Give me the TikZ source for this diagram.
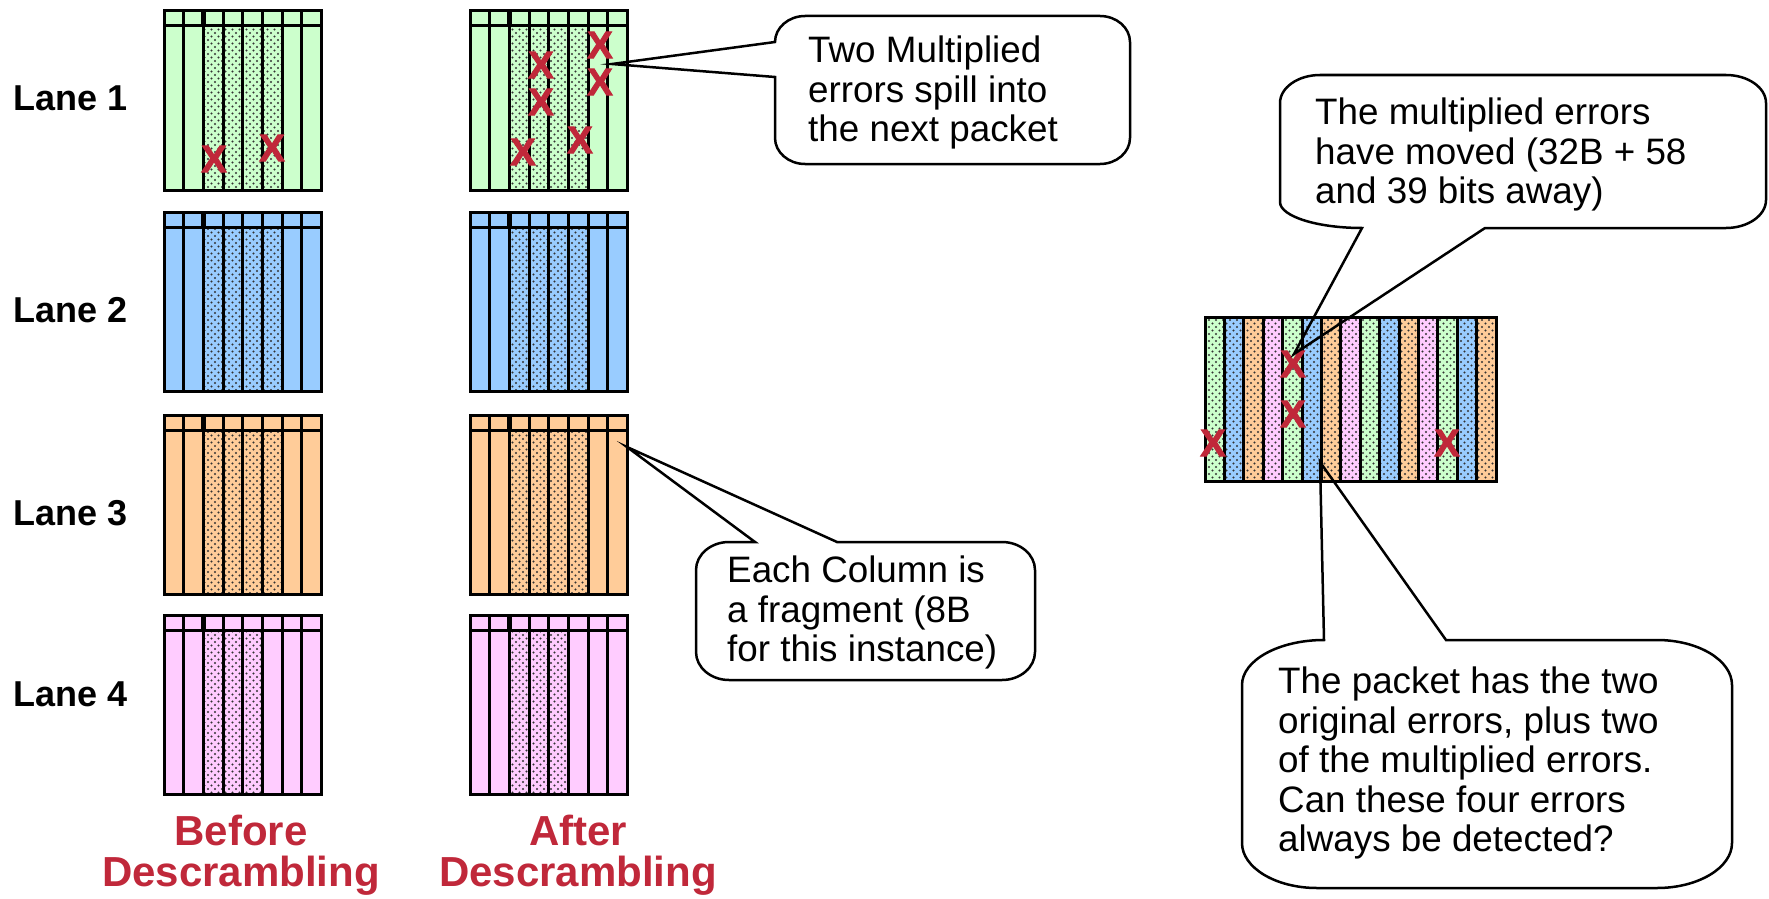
\documentclass[tikz,border=0pt]{standalone}
\usepackage{fontspec}
\setmainfont{Liberation Sans}
\newfontfamily\errfont[FakeBold=2.5]{Liberation Sans Bold}
\usetikzlibrary{patterns}

\definecolor{lanegreen}{RGB}{204,255,204}
\definecolor{laneblue}{RGB}{153,204,255}
\definecolor{laneorange}{RGB}{255,204,153}
\definecolor{lanepink}{RGB}{255,204,255}
\definecolor{errred}{RGB}{192,40,58}

% sparse staggered dots used for the scrambled fragments
\pgfdeclarepatternformonly{sparsedots}{\pgfqpoint{-1.5pt}{-1.5pt}}{\pgfqpoint{8.5pt}{8.5pt}}{\pgfqpoint{7pt}{7pt}}{%
  \pgfpathcircle{\pgfqpoint{1.5pt}{1.5pt}}{1.15pt}%
  \pgfpathcircle{\pgfqpoint{5pt}{5pt}}{1.15pt}%
  \pgfusepath{fill}}

\tikzset{
  boxline/.style={line width=3pt, line cap=rect},
  dotfill/.style={pattern=sparsedots, pattern color=black!80},
  errx/.style={text=errred, font=\fontsize{38}{38}\selectfont\errfont, inner sep=0pt},
  lanelabel/.style={font=\fontsize{36}{40}\selectfont\bfseries, inner sep=0pt, anchor=west},
  phaselabel/.style={text=errred, font=\fontsize{42}{41}\selectfont\bfseries, inner sep=0pt, align=center, anchor=north},
  calltext/.style={font=\fontsize{36.8}{39.5}\selectfont, inner sep=0pt, align=left, anchor=north west},
  callout/.style={draw=black, line width=2.5pt, line join=miter},
}

\begin{document}
\begin{tikzpicture}[x=1pt, y=-1pt]
\path[use as bounding box] (0,0) rectangle (1769,899);

% ---- lane blocks: 8 fragments each, header row on top ----
\foreach \bx in {164,470}{
  \foreach \top/\col/\nd in {11/lanegreen/4, 212/laneblue/4, 415/laneorange/4, 615/lanepink/3}{
    \fill[\col] (\bx,\top) rectangle ++(157.6,179);
    \fill[dotfill] (\bx+39.4,\top+15) rectangle ++(\nd*19.7,164);
    \foreach \i in {1,...,7}
      \draw[boxline] (\bx+\i*19.7,\top) -- ++(0,179);
    \draw[boxline] (\bx,\top+15) -- ++(157.6,0);
    \draw[line width=5pt] (\bx+39.4,\top) -- ++(0,15);
    \draw[boxline] (\bx,\top) rectangle ++(157.6,179);
  }
}

% ---- descrambled packet: 15 interleaved fragments ----
\foreach \i in {0,...,14}{
  \pgfmathtruncatemacro\m{mod(\i,4)}
  \ifcase\m \def\c{lanegreen}\or \def\c{laneblue}\or \def\c{laneorange}\or \def\c{lanepink}\fi
  \fill[\c] (1205+\i*19.4,317) rectangle ++(19.4,164);
}
\fill[dotfill] (1205,317) rectangle (1496,481);
\foreach \i in {1,...,14}
  \draw[boxline] (1205+\i*19.4,317) -- ++(0,164);
\draw[boxline] (1205,317) rectangle (1496,481);

% ---- lane labels ----
\node[lanelabel] (lane1) at (13,98)  {Lane 1};
\node[lanelabel] (lane2) at (13,310) {Lane 2};
\node[lanelabel] (lane3) at (13,513) {Lane 3};
\node[lanelabel] (lane4) at (13,694) {Lane 4};

% ---- column captions ----
\node[phaselabel] (before) at (241,815) {Before\\Descrambling};
\node[phaselabel] (after)  at (578,815) {After\\Descrambling};

% ---- error marks ----
\node[errx] (b1) at (214,159) {X};
\node[errx] (b2) at (272,148) {X};
\node[errx] (a1) at (600,45)  {X};
\node[errx] (a2) at (600,82)  {X};
\node[errx] (a3) at (541,65)  {X};
\node[errx] (a4) at (541,102) {X};
\node[errx] (a5) at (523,152) {X};
\node[errx] (a6) at (580,140) {X};
\node[errx] (p1) at (1213,443) {X};
\node[errx] (p2) at (1293,364) {X};
\node[errx] (p3) at (1293,414) {X};
\node[errx] (p4) at (1447,443) {X};

% ---- callout tips ----
\coordinate (tipA) at (612,64);
\coordinate (tipB) at (627,447);
\coordinate (tipC) at (1294,354);
\coordinate (tipD) at (1320,462);

% callout: spilled errors
\draw[callout] (775,77) -- (775,138)
  .. controls (775,152.3) and (788.5,164) .. (805,164) -- (1100,164)
  .. controls (1116.5,164) and (1130,152.3) .. (1130,138) -- (1130,42)
  .. controls (1130,27.7) and (1116.5,16) .. (1100,16) -- (805,16)
  .. controls (788.5,16) and (775,27.7) .. (775,42) -- (tipA) -- cycle;
\node[calltext] (txtA) at (808,36) {Two Multiplied\\errors spill into\\the next packet};

% callout: fragment size
\draw[callout] (837,542) -- (1002,542)
  .. controls (1020.2,542) and (1035,554.6) .. (1035,570) -- (1035,652)
  .. controls (1035,667.4) and (1020.2,680) .. (1002,680) -- (729,680)
  .. controls (710.8,680) and (696,667.4) .. (696,652) -- (696,570)
  .. controls (696,554.6) and (710.8,542) .. (729,542) -- (755,542) -- (tipB) -- cycle;
\node[calltext] (txtB) at (727,556) {Each Column is\\a fragment (8B\\for this instance)};

% callout: moved errors
\draw[callout] (1485,228) -- (1726,228)
  .. controls (1748,228) and (1766,215.4) .. (1766,200) -- (1766,103)
  .. controls (1766,87.6) and (1748,75) .. (1726,75) -- (1320,75)
  .. controls (1298,75) and (1280,87.6) .. (1280,103) -- (1280,202)
  .. controls (1280,216.3) and (1317,228) .. (1362,228) -- (tipC) -- cycle;
\node[calltext] (txtC) at (1315,98) {The multiplied errors\\have moved (32B + 58\\and 39 bits away)};

% callout: detection question
\draw[callout] (1446,640) -- (1657,640)
  .. controls (1698.25,640) and (1732,660.25) .. (1732,685) -- (1732,843)
  .. controls (1732,867.75) and (1698.25,888) .. (1657,888) -- (1317,888)
  .. controls (1275.75,888) and (1242,867.75) .. (1242,843) -- (1242,685)
  .. controls (1242,660.25) and (1278.9,640) .. (1324,640) -- (tipD) -- cycle;
\node[calltext] (txtD) at (1278,667) {The packet has the two\\original errors, plus two\\of the multiplied errors.\\Can these four errors\\always be detected?};

\end{tikzpicture}
\end{document}
